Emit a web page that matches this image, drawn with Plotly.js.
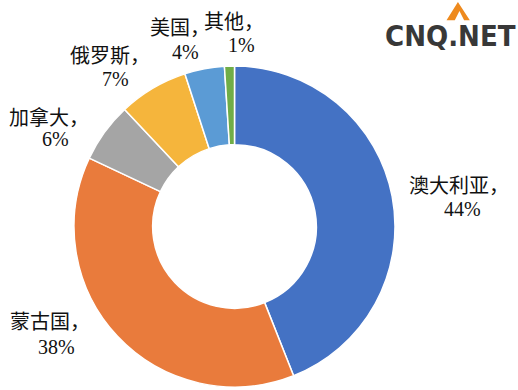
<!DOCTYPE html>
<html><head><meta charset="utf-8">
<script src="https://cdn.plot.ly/plotly-3.0.1.min.js"></script>
<style>html,body{margin:0;padding:0;background:#fff}#chart{width:518px;height:390px}</style>
</head><body><div id="chart"></div>
<script>
const categories = ['澳大利亚', '蒙古国', '加拿大', '俄罗斯', '美国', '其他'];
const shares = [44, 38, 6, 7, 4, 1];
const colors = ['#4472C4', '#E97B3C', '#A5A5A5', '#F5B53C', '#5B9BD5', '#70AD47'];

// label placement (pixels from top-left): name line center, percent line center
const labelPos = [
  [459, 186, 462, 209],
  [50, 322, 56, 347],
  [49, 117, 55, 139],
  [110, 56, 115, 79],
  [180, 28, 185, 52],
  [234, 22, 241, 45]
];

const W = 518, H = 390;
const fontFam = 'Liberation Serif, "Noto Sans CJK SC", serif';

const trace = {
  type: 'pie',
  labels: categories,
  values: shares,
  sort: false,
  direction: 'clockwise',
  rotation: 0,
  hole: 0.51,
  marker: {colors: colors, line: {color: '#ffffff', width: 1.5}},
  textinfo: 'none',
  showlegend: false,
  hoverinfo: 'none',
  domain: {x: [74/W, 395/W], y: [3/H, 324/H]}
};

const annotations = [];
categories.forEach((c, i) => {
  const p = labelPos[i];
  annotations.push({
    text: c + '，', xref: 'paper', yref: 'paper', x: p[0]/W, y: 1 - p[1]/H,
    xanchor: 'center', yanchor: 'middle', showarrow: false,
    font: {family: fontFam, size: 20, color: '#111'}
  });
  annotations.push({
    text: shares[i] + '%', xref: 'paper', yref: 'paper', x: p[2]/W, y: 1 - p[3]/H,
    xanchor: 'center', yanchor: 'middle', showarrow: false,
    font: {family: fontFam, size: 20, color: '#111'}
  });
});
annotations.push({
  text: '<b>CNQ.NET</b>', xref: 'paper', yref: 'paper',
  x: 450/W, y: 1 - 36/H, xanchor: 'center', yanchor: 'middle', showarrow: false,
  font: {family: '"DejaVu Sans Condensed", "DejaVu Sans", sans-serif', size: 29, color: '#383838'}
});

const layout = {
  width: W, height: H,
  margin: {l: 0, r: 0, t: 0, b: 0},
  paper_bgcolor: '#fff',
  showlegend: false,
  shapes: [{
    type: 'path', xref: 'paper', yref: 'paper',
    path: 'M 0.862 0.948 L 0.884 0.995 L 0.907 0.948 L 0.896 0.948 L 0.887 0.972 L 0.878 0.948 Z',
    fillcolor: '#EE8A1E', line: {width: 0}
  }],
  annotations: annotations
};

Plotly.newPlot('chart', [trace], layout, {staticPlot: true});
</script></body></html>
